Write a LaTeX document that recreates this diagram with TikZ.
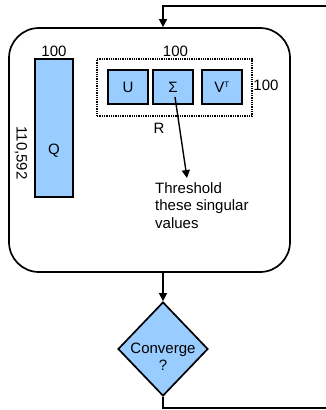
\documentclass[tikz,border=0pt]{standalone}
\usepackage{fontspec}
\setmainfont{Liberation Sans}
\usetikzlibrary{positioning,arrows.meta,shapes.geometric}
\definecolor{svdblue}{HTML}{99CCFF}
\tikzset{
  mat/.style    ={draw=black, fill=svdblue, line width=1.7pt, inner sep=0pt},
  dimlbl/.style ={inner sep=0pt, font=\fontsize{15}{17.5}\selectfont},
  flow/.style   ={-{Triangle[length=8pt,width=8pt]}, line width=1.4pt},
  loopline/.style={line width=1.4pt},
  decide/.style ={diamond, draw=black, fill=svdblue, line width=1.7pt,
                  minimum width=90pt, minimum height=94pt, inner sep=0pt},
}

\begin{document}
\begin{tikzpicture}[x=1pt,y=-1pt]
  \useasboundingbox (0,0) rectangle (326,410);
  % outer iteration block
  \node[draw=black, line width=1.7pt, rounded corners=30pt, minimum width=281pt,
        minimum height=244pt, inner sep=0pt] (iter) at (149.5,150) {};
  % Q factor
  \node[mat, minimum width=38pt, minimum height=138pt] (qmat) at (54,128) {};
  \node[dimlbl] (qlbl) at (54,151) {Q};
  \node[dimlbl] (qtop) at (54,51) {100};
  \node[dimlbl, rotate=-90] (qside) at (21,153) {110,592};
  % SVD of R
  \node[draw=black, densely dotted, line width=1.3pt, minimum width=155pt,
        minimum height=57pt, inner sep=0pt] (rbox) at (174.5,87.5) {};
  \node[mat, minimum width=40pt, minimum height=34pt, dimlbl] (umat) at (128,87) {U};
  \node[mat, minimum width=40pt, minimum height=34pt, dimlbl] (sig) at (173,87) {Σ};
  \node[mat, minimum width=40pt, minimum height=34pt, dimlbl] (vmat) at (222,87) {V\textsuperscript{\fontsize{8}{8}\selectfont T}};
  \node[dimlbl] (rtop) at (175.5,51) {100};
  \node[dimlbl] (rside) at (266,85) {100};
  \node[dimlbl] (rlbl) at (159,128) {R};
  % threshold note
  \coordinate (tip) at (187,178);
  \node[dimlbl, align=left, anchor=north west] (thr) at (155,182)
       {Threshold\\these singular\\values};
  \draw[flow] ([xshift=2pt,yshift=-10pt]sig.center) -- (tip);
  % convergence test
  \node[decide] (conv) at (163,349) {};
  \node[dimlbl, align=center] (convtxt) at (163,357) {Converge\\?};
  \draw[flow] (iter.south -| conv.north) -- (conv.north);
  % loop back
  \coordinate (topR) at (326,6);
  \coordinate (botR) at (326,408);
  \draw[loopline] (conv.south) -- (conv.south |- botR) -- (botR);
  \draw[flow] (topR) -- (topR -| conv.north) -- (iter.north -| conv.north);
\end{tikzpicture}
\end{document}
